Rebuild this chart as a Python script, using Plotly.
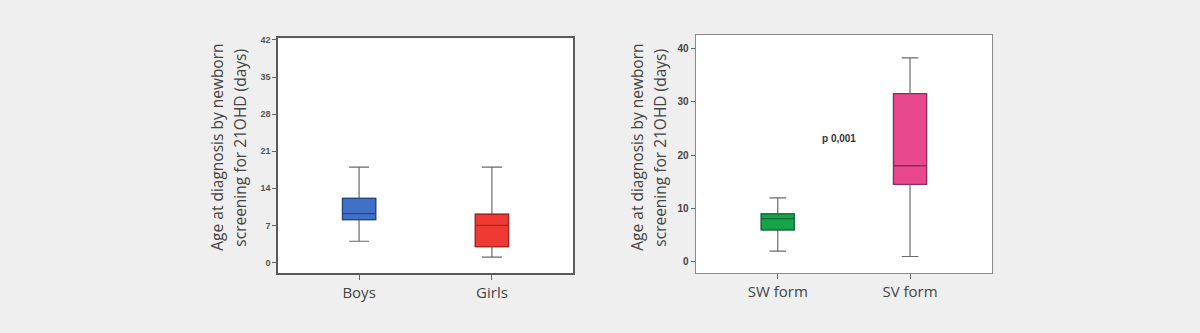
import plotly.graph_objects as go

# ---- data ----
sex_groups = ["Boys", "Girls"]
sex_lower = [4.0, 1.0]
sex_q1 = [8.1, 3.0]
sex_median = [9.2, 7.0]
sex_q3 = [12.1, 9.1]
sex_upper = [18.0, 18.0]
sex_fill = ["#3f72c6", "#ee3a33"]
sex_edge = ["#25467f", "#a82420"]

form_groups = ["SW form", "SV form"]
form_lower = [2.0, 1.0]
form_q1 = [6.0, 14.5]
form_median = [8.1, 18.0]
form_q3 = [9.0, 31.5]
form_upper = [12.0, 38.2]
form_fill = ["#16a34a", "#e9488f"]
form_edge = ["#0f6e33", "#8e2d5a"]

left_ticks = [0, 7, 14, 21, 28, 35, 42]
right_ticks = [0, 10, 20, 30, 40]
y_title_1 = "Age at diagnosis by newborn"
y_title_2 = "screening for 21OHD (days)"
p_text = "p 0,001"

fig = go.Figure()


def add_boxes(groups, lo, q1, med, q3, hi, fill, edge, xa, ya, ww):
    for i, g in enumerate(groups):
        # whiskers + box (grey lines)
        fig.add_trace(go.Box(
            x=[g], q1=[q1[i]], median=[med[i]], q3=[q3[i]],
            lowerfence=[lo[i]], upperfence=[hi[i]],
            fillcolor=fill[i], line=dict(color="#6a6a6a", width=1.2),
            width=0.25, whiskerwidth=ww, boxpoints=False,
            xaxis=xa, yaxis=ya, showlegend=False, hoverinfo="skip"))
        # darker box border and median
        fig.add_trace(go.Box(
            x=[g], q1=[q1[i]], median=[med[i]], q3=[q3[i]],
            lowerfence=[q1[i]], upperfence=[q3[i]],
            fillcolor=fill[i], line=dict(color=edge[i], width=1.3),
            width=0.25, whiskerwidth=0, boxpoints=False,
            xaxis=xa, yaxis=ya, showlegend=False, hoverinfo="skip"))


add_boxes(sex_groups, sex_lower, sex_q1, sex_median, sex_q3, sex_upper,
          sex_fill, sex_edge, "x", "y", 0.6)
add_boxes(form_groups, form_lower, form_q1, form_median, form_q3, form_upper,
          form_fill, form_edge, "x2", "y2", 0.5)

xcommon = dict(showline=True, mirror=True, ticks="outside", ticklen=5,
               tickcolor="#666", showgrid=False, zeroline=False,
               tickfont=dict(family="Open Sans", size=15, color="#444"))
ycommon = dict(showline=True, mirror=True, ticks="outside", ticklen=4,
               tickcolor="#666", showgrid=False, zeroline=False)

fig.update_layout(
    width=1200, height=333,
    margin=dict(l=0, r=0, t=0, b=0),
    paper_bgcolor="#efefef", plot_bgcolor="#ffffff",
    boxmode="overlay",
    xaxis=dict(domain=[0.2317, 0.4775], range=[-0.61, 1.61],
               linecolor="#5a5a5a", linewidth=1.6, anchor="y", **xcommon),
    yaxis=dict(domain=[0.1817, 0.8928], range=[-2.0, 42.3],
               tickvals=left_ticks, linecolor="#5a5a5a", linewidth=1.6,
               tickfont=dict(family="Arial", size=9, color="#555", weight="bold"),
               anchor="x", **ycommon),
    xaxis2=dict(domain=[0.5798, 0.8267], range=[-0.62, 1.62],
                linecolor="#8a8a8a", linewidth=1.3, anchor="y2", **xcommon),
    yaxis2=dict(domain=[0.1817, 0.903], range=[-2.1, 42.5],
                tickvals=right_ticks, linecolor="#8a8a8a", linewidth=1.3,
                tickfont=dict(family="Arial", size=10, color="#444", weight="bold"),
                anchor="x2", **ycommon),
)

title_font = dict(family="Open Sans", size=15.5, color="#444")
annots = [
    (217 / 1200, y_title_1), (240 / 1200, y_title_2),
    (637 / 1200, y_title_1), (660 / 1200, y_title_2),
]
for xp, txt in annots:
    fig.add_annotation(x=xp, y=(333 - 146) / 333, xref="paper", yref="paper",
                       text=txt, textangle=-90, showarrow=False,
                       font=title_font, xanchor="center", yanchor="middle")

fig.add_annotation(x=0.46, y=23.2, xref="x2", yref="y2", text="<b>" + p_text + "</b>",
                   showarrow=False, font=dict(family="Arial", size=10, color="#333"))

fig.write_html("out.html")
